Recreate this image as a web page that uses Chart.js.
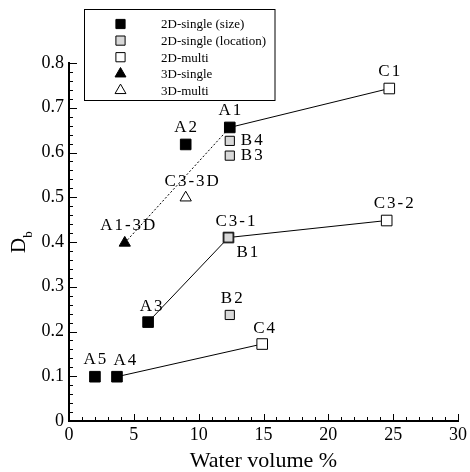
<!DOCTYPE html>
<html>
<head>
<meta charset="utf-8">
<script src="https://cdn.jsdelivr.net/npm/chart.js@4"></script>
<style>
  html, body { margin: 0; padding: 0; background: #fff; }
  #wrap { width: 470px; height: 472px; }
</style>
</head>
<body>
<div id="wrap"><canvas id="chart"></canvas></div>
<script>
// 2D-single (size)
const sizeLabels = ["A1", "A2", "A3", "A4", "A5"];
const sizeX = [12.4, 9.0, 6.1, 3.7, 2.0];
const sizeY = [0.656, 0.618, 0.221, 0.099, 0.099];

// 2D-single (location)
const locLabels = ["B1", "B2", "B3", "B4"];
const locX = [12.3, 12.4, 12.4, 12.4];
const locY = [0.410, 0.237, 0.593, 0.626];

// 2D-multi
const multiLabels = ["C1", "C3-1", "C3-2", "C4"];
const multiX = [24.7, 12.3, 24.5, 14.9];
const multiY = [0.743, 0.410, 0.448, 0.172];

// 3D
const single3dLabels = ["A1-3D"];
const single3dX = [4.3];
const single3dY = [0.398];
const multi3dLabels = ["C3-3D"];
const multi3dX = [9.0];
const multi3dY = [0.499];

const legendNames = ["2D-single (size)", "2D-single (location)", "2D-multi", "3D-single", "3D-multi"];

// which points are joined
const solidLinks = [["A1", "C1"], ["A3", "C3-1", "C3-2"], ["A4", "C4"]];
const dottedLinks = [["A1-3D", "A1"]];

const xTicks = [0, 5, 10, 15, 20, 25, 30];
const yTicks = [0, 0.1, 0.2, 0.3, 0.4, 0.5, 0.6, 0.7, 0.8];

// label placement (dx, dy, align)
const labelPos = {
  "B4": [11, 0, "left"], "B3": [11, 0, "left"], "B1": [8, 15, "left"],
  "C3-1": [8, -16, "center"], "C3-2": [8, -17, "center"], "A4": [9, -16, "center"],
  "A3": [4, -16, "center"], "C3-3D": [7, -16, "center"], "A1-3D": [4, -17, "center"],
  "C4": [3, -15, "center"], "B2": [3, -16, "center"]
};

const serif = "Times New Roman, Liberation Serif, serif";

function pts(xs, ys, labels) {
  return xs.map((x, i) => ({ x: x, y: ys[i], name: labels[i] }));
}

const allPts = {};
[[sizeX, sizeY, sizeLabels], [locX, locY, locLabels], [multiX, multiY, multiLabels],
 [single3dX, single3dY, single3dLabels], [multi3dX, multi3dY, multi3dLabels]].forEach(s => {
  pts(s[0], s[1], s[2]).forEach(p => { allPts[p.name] = p; });
});

const markerSets = [
  { label: legendNames[0], data: pts(sizeX, sizeY, sizeLabels), pointStyle: "rect", pointRadius: 7.5, backgroundColor: "#000", borderColor: "#000", borderWidth: 1 },
  { label: legendNames[1], data: pts(locX, locY, locLabels), pointStyle: "rect", pointRadius: 6.5, backgroundColor: "#d8d8d8", borderColor: "#000", borderWidth: 1 },
  { label: legendNames[2], data: pts(multiX, multiY, multiLabels), pointStyle: "rect", pointRadius: 7.5, backgroundColor: "#fff", borderColor: "#000", borderWidth: 1 },
  { label: legendNames[3], data: pts(single3dX, single3dY, single3dLabels), pointStyle: "triangle", pointRadius: 6.5, backgroundColor: "#000", borderColor: "#000", borderWidth: 1 },
  { label: legendNames[4], data: pts(multi3dX, multi3dY, multi3dLabels), pointStyle: "triangle", pointRadius: 6.5, backgroundColor: "#fff", borderColor: "#000", borderWidth: 1 }
];
markerSets.forEach(d => { d.showLine = false; d.pointHoverRadius = d.pointRadius; });

const lineSets = [];
solidLinks.forEach(l => lineSets.push({ label: "", data: l.map(n => allPts[n]), showLine: true, borderColor: "#000", borderWidth: 1, pointRadius: 0 }));
dottedLinks.forEach(l => lineSets.push({ label: "", data: l.map(n => allPts[n]), showLine: true, borderColor: "#000", borderWidth: 1, borderDash: [2, 2], pointRadius: 0 }));

// legend marker, same shapes as the library
function marker(ctx, style, r, x, y, fill) {
  ctx.save();
  ctx.beginPath();
  if (style === "rect") {
    const s = Math.SQRT1_2 * r;
    ctx.rect(x - s, y - s, 2 * s, 2 * s);
  } else {
    ctx.moveTo(x, y - r);
    ctx.lineTo(x + r * Math.sin(2 * Math.PI / 3), y - r * Math.cos(2 * Math.PI / 3));
    ctx.lineTo(x + r * Math.sin(4 * Math.PI / 3), y - r * Math.cos(4 * Math.PI / 3));
    ctx.closePath();
  }
  ctx.fillStyle = fill;
  ctx.fill();
  ctx.strokeStyle = "#000";
  ctx.lineWidth = 1;
  ctx.stroke();
  ctx.restore();
}

const extras = {
  id: "extras",
  afterDraw(chart) {
    const ctx = chart.ctx;
    const xs = chart.scales.x, ys = chart.scales.y;
    const a = chart.chartArea;
    ctx.save();
    ctx.strokeStyle = "#000";
    ctx.lineWidth = 1;
    // inward ticks
    for (let v = 0; v <= 30; v += 1) {
      const px = Math.round(xs.getPixelForValue(v)) + 0.5;
      const len = v % 5 === 0 ? 7 : 4;
      ctx.beginPath(); ctx.moveTo(px, a.bottom); ctx.lineTo(px, a.bottom - len); ctx.stroke();
    }
    for (let i = 0; i <= 40; i++) {
      const py = Math.round(ys.getPixelForValue(i * 0.02)) + 0.5;
      const len = i % 5 === 0 ? 8 : 4;
      ctx.beginPath(); ctx.moveTo(a.left, py); ctx.lineTo(a.left + len, py); ctx.stroke();
    }
    // point labels
    ctx.fillStyle = "#000";
    ctx.font = "17px " + serif;
    ctx.textBaseline = "middle";
    ctx.letterSpacing = "2px";
    Object.values(allPts).forEach(p => {
      const pos = labelPos[p.name] || [1, -17, "center"];
      ctx.textAlign = pos[2];
      ctx.fillText(p.name, xs.getPixelForValue(p.x) + pos[0], ys.getPixelForValue(p.y) + pos[1]);
    });
    ctx.letterSpacing = "0px";
    // legend
    ctx.lineWidth = 1;
    ctx.strokeRect(84.5, 9.5, 190.5, 91);
    ctx.font = "13px " + serif;
    ctx.textAlign = "left";
    markerSets.forEach((d, i) => {
      const y = 24 + i * 16.6;
      marker(ctx, d.pointStyle, d.pointStyle === "rect" ? 6.5 : 6.3, 120.5, y, d.backgroundColor);
      ctx.fillStyle = "#000";
      ctx.fillText(d.label, 161, y + 1);
    });
    // y title D_b
    ctx.translate(25, 253);
    ctx.rotate(-Math.PI / 2);
    ctx.textAlign = "left";
    ctx.textBaseline = "alphabetic";
    ctx.font = "21px " + serif;
    ctx.fillText("D", 0, 0);
    const w = ctx.measureText("D").width;
    ctx.font = "13px " + serif;
    ctx.fillText("b", w, 7);
    ctx.restore();
  }
};

new Chart(document.getElementById("chart"), {
  type: "scatter",
  data: { datasets: markerSets.concat(lineSets) },
  options: {
    responsive: true,
    maintainAspectRatio: false,
    animation: false,
    layout: { padding: { top: 63, right: 10, left: 0, bottom: 0 } },
    plugins: { legend: { display: false }, tooltip: { enabled: false } },
    scales: {
      x: {
        type: "linear", min: 0, max: 30,
        afterBuildTicks: s => { s.ticks = xTicks.map(v => ({ value: v })); },
        afterFit: s => { s.height = 51; },
        grid: { display: false, drawTicks: false },
        border: { display: true, color: "#000", width: 2 },
        ticks: { color: "#000", padding: 3, font: { family: serif, size: 18 } },
        title: { display: true, text: "Water volume %", color: "#000", font: { family: serif, size: 22, lineHeight: 1 }, padding: { top: 0, bottom: 0 } }
      },
      y: {
        type: "linear", min: 0, max: 0.8,
        afterBuildTicks: s => { s.ticks = yTicks.map(v => ({ value: v })); },
        afterFit: s => { s.width = 69; },
        grid: { display: false, drawTicks: false },
        border: { display: true, color: "#000", width: 2 },
        ticks: { color: "#000", padding: 5, font: { family: serif, size: 18 }, callback: v => String(Math.round(v * 10) / 10) }
      }
    }
  },
  plugins: [extras]
});
</script>
</body>
</html>
